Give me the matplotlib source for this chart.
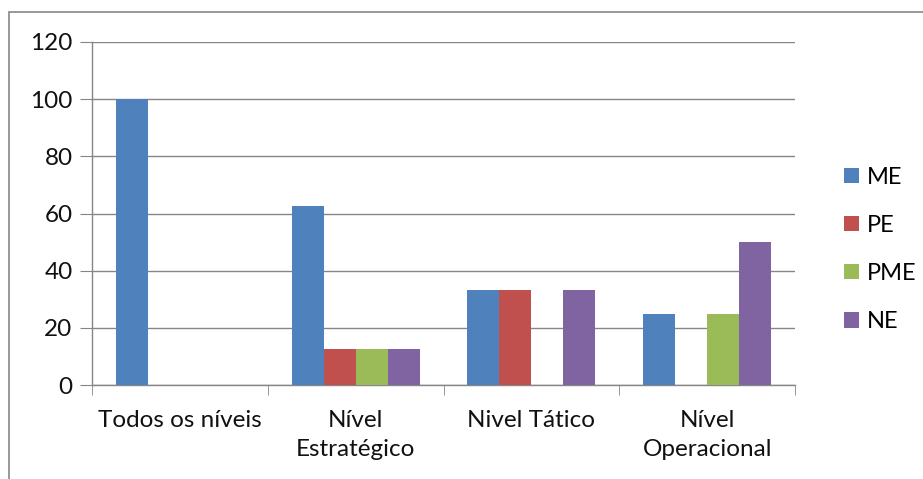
import matplotlib.pyplot as plt
import numpy as np
from matplotlib.patches import Rectangle

plt.rcParams["font.family"] = ["Lato", "DejaVu Sans"]

categories = ["Todos os níveis", "Nível\nEstratégico", "Nivel Tático", "Nível\nOperacional"]
series_names = ["ME", "PE", "PME", "NE"]
me = [100, 62.5, 33.3, 25]
pe = [0, 12.5, 33.3, 0]
pme = [0, 12.5, 0, 25]
ne = [0, 12.5, 33.3, 50]
series_values = [me, pe, pme, ne]
colors = ["#4f81bd", "#c0504d", "#9bbb59", "#8064a2"]

fig = plt.figure(figsize=(9.23, 4.79), dpi=100)
fig.patches.append(Rectangle((9 / 923, -0.1), 1.2, (479 - 12) / 479 + 0.1,
                             transform=fig.transFigure, fill=False,
                             edgecolor="#868686", linewidth=1.2))
ax = fig.add_axes([92 / 923, 1 - 385 / 479, (795 - 92) / 923, (385 - 42) / 479])

x = np.arange(len(categories))
width = 32 / 176
for i, (name, vals, c) in enumerate(zip(series_names, series_values, colors)):
    ax.bar(x + (i - 1.5) * width, vals, width, color=c, label=name, zorder=3)

ax.set_xlim(-0.5, len(categories) - 0.5)
ax.set_ylim(0, 120)
ax.set_yticks(range(0, 121, 20))
ax.grid(axis="y", color="#868686", linewidth=1)
ax.set_axisbelow(True)
for s in ["top", "right"]:
    ax.spines[s].set_visible(False)
for s in ["left", "bottom"]:
    ax.spines[s].set_color("#868686")
    ax.spines[s].set_linewidth(1)

ax.set_xticks(x)
ax.set_xticklabels(categories, fontsize=17.5, color="#111111", linespacing=1.45)
ax.tick_params(axis="x", length=0, pad=18)
ax.set_xticks(np.arange(-0.5, len(categories), 1), minor=True)
ax.tick_params(axis="x", which="minor", length=7, color="#868686", direction="out")
ax.tick_params(axis="y", length=9, color="#868686", labelsize=17.5, labelcolor="#111111", pad=5)

ax.legend(loc="center left", bbox_to_anchor=(1.04, 0.395), frameon=False, fontsize=17,
          handlelength=0.62, handleheight=0.62, labelspacing=1.15, handletextpad=0.35)

fig.savefig("out.png", dpi=100)
